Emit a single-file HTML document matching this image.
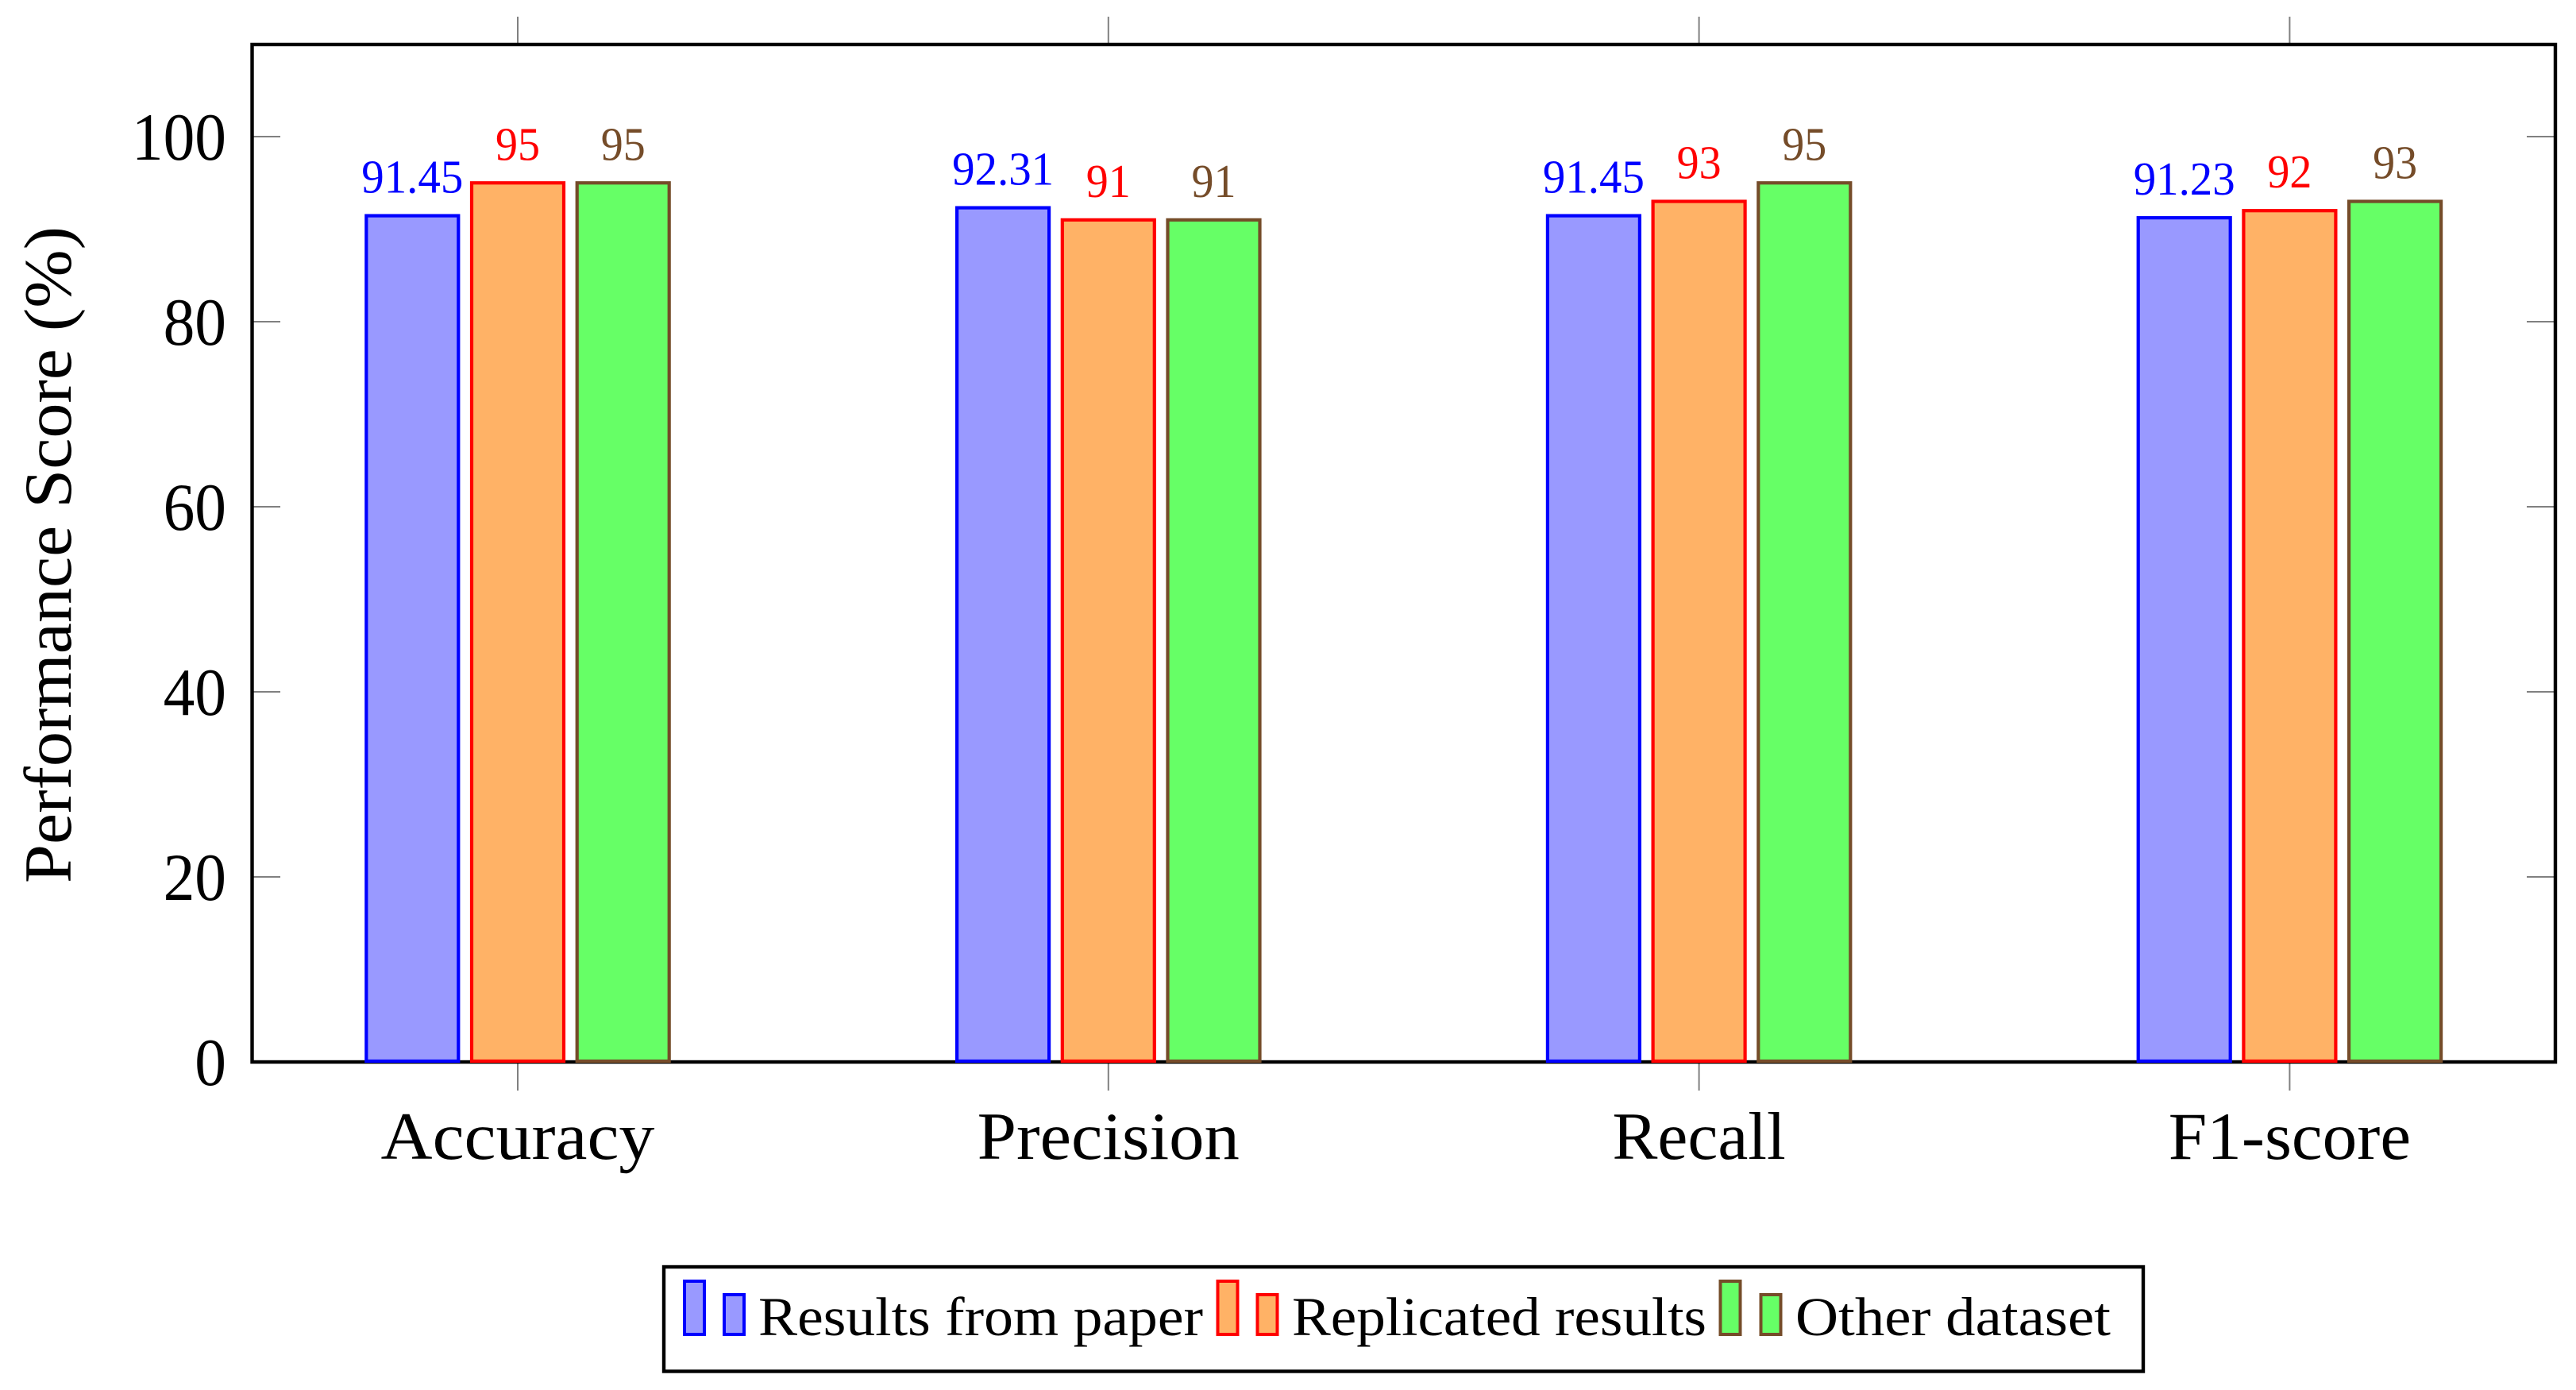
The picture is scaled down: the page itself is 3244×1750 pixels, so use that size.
<!DOCTYPE html>
<html lang="en">
<head>
<meta charset="utf-8">
<title>Performance Score Bar Chart</title>
<style>
  html, body { margin: 0; padding: 0; background: #fff; }
  svg { display: block; font-family: "Liberation Serif", serif; }
</style>
</head>
<body>
<svg id="chart" xmlns="http://www.w3.org/2000/svg" width="3244" height="1750" viewBox="0 0 3244 1750">
  <rect x="0" y="0" width="3244" height="1750" fill="#fff"/>
  <g id="ticks"></g>
  <rect x="317.5" y="56" width="2900.5" height="1281" fill="none" stroke="#000" stroke-width="4.4"/>
  <g id="bars"></g>
  <g id="labels"></g>
  <text transform="translate(89 1112) rotate(-90)" font-size="85" textLength="827" lengthAdjust="spacingAndGlyphs" fill="#000">Performance Score (%)</text>

  <g>
    <rect x="836" y="1595" width="1863" height="131.5" fill="#fff" stroke="#000" stroke-width="4.4"/>
    <g>
      <rect x="862" y="1613" width="25" height="67" fill="#9999ff" stroke="#0000ff" stroke-width="4"/>
      <rect x="912" y="1630" width="25" height="50" fill="#9999ff" stroke="#0000ff" stroke-width="4"/>
      <text x="955" y="1681" font-size="69" textLength="560" lengthAdjust="spacingAndGlyphs">Results from paper</text>
    </g>
    <g>
      <rect x="1533.5" y="1613" width="25" height="67" fill="#ffb266" stroke="#ff0000" stroke-width="4"/>
      <rect x="1583.5" y="1630" width="25" height="50" fill="#ffb266" stroke="#ff0000" stroke-width="4"/>
      <text x="1627" y="1681" font-size="69" textLength="522" lengthAdjust="spacingAndGlyphs">Replicated results</text>
    </g>
    <g>
      <rect x="2166.5" y="1613" width="25" height="67" fill="#66ff66" stroke="#754c29" stroke-width="4"/>
      <rect x="2217.5" y="1630" width="25" height="50" fill="#66ff66" stroke="#754c29" stroke-width="4"/>
      <text x="2261" y="1681" font-size="69" textLength="397" lengthAdjust="spacingAndGlyphs">Other dataset</text>
    </g>
  </g>
</svg>
<script>
const categories = ["Accuracy", "Precision", "Recall", "F1-score"];
const seriesNames = ["Results from paper", "Replicated results", "Other dataset"];
const resultsFromPaper = [91.45, 92.31, 91.45, 91.23];
const replicatedResults = [95, 91, 93, 92];
const otherDataset = [95, 91, 95, 93];
const yTicks = [0, 20, 40, 60, 80, 100];

const seriesValues = [resultsFromPaper, replicatedResults, otherDataset];
const fillColors = ["#9999ff", "#ffb266", "#66ff66"];
const strokeColors = ["#0000ff", "#ff0000", "#754c29"];
const categoryLabelWidthEm = [4.01, 3.84, 2.54, 3.55];

const NS = "http://www.w3.org/2000/svg";
const yScale = function (v) { return 1337 - v * 11.65; };
const xScale = function (i) { return 652 + i * 743.8; };
const seriesOffset = function (s) { return (s - 1) * 132.7; };
const valueLabelWidth = function (v) {
  const str = String(v);
  return str.replace(".", "").length * 28 + (str.indexOf(".") >= 0 ? 16 : 0);
};

const ticksGroup = document.getElementById("ticks");
const barsGroup = document.getElementById("bars");
const labelsGroup = document.getElementById("labels");

function makeNode(tag, props, parent) {
  const node = document.createElementNS(NS, tag);
  Object.keys(props).forEach(function (k) { node.setAttribute(k, props[k]); });
  parent.appendChild(node);
  return node;
}

yTicks.forEach(function (t) {
  const y = yScale(t);
  if (t !== 0) {
    const left = makeNode("line", { x1: 319, x2: 353, y1: y, y2: y, stroke: "#808080", "stroke-width": 2 }, ticksGroup);
    
    
    const right = makeNode("line", { x1: 3182, x2: 3216, y1: y, y2: y, stroke: "#808080", "stroke-width": 2 }, ticksGroup);
    
    
  }
  const label = makeNode("text", { x: 285, y: y + 29, "font-size": 85, "text-anchor": "end", textLength: String(t).length * 39.7, lengthAdjust: "spacingAndGlyphs", fill: "#000" }, labelsGroup);
  label.textContent = t;
  
  
});

categories.forEach(function (name, i) {
  const x = xScale(i);
  const top = makeNode("line", { x1: x, x2: x, y1: 21, y2: 54, stroke: "#808080", "stroke-width": 2 }, ticksGroup);
  
  
  const bottom = makeNode("line", { x1: x, x2: x, y1: 1339, y2: 1373, stroke: "#808080", "stroke-width": 2 }, ticksGroup);
  
  
  const label = makeNode("text", { x: x, y: 1459, "font-size": 85, "text-anchor": "middle", textLength: categoryLabelWidthEm[i] * 86, lengthAdjust: "spacingAndGlyphs", fill: "#000" }, labelsGroup);
  label.textContent = name;
  
  
});

seriesValues.forEach(function (values, s) {
  values.forEach(function (v, i) {
    const cx = xScale(i) + seriesOffset(s);
    const y = yScale(v);
    const bar = makeNode("rect", { x: cx - 58, y: y, width: 116, height: yScale(0) - y - 1, fill: fillColors[s], stroke: strokeColors[s], "stroke-width": 4.2 }, barsGroup);
    
    
    const text = makeNode("text", { x: cx, y: y - 29, "font-size": 59, "text-anchor": "middle", textLength: valueLabelWidth(v), lengthAdjust: "spacingAndGlyphs", fill: strokeColors[s] }, labelsGroup);
    text.textContent = v;
    
    
  });
});
</script>
</body>
</html>
